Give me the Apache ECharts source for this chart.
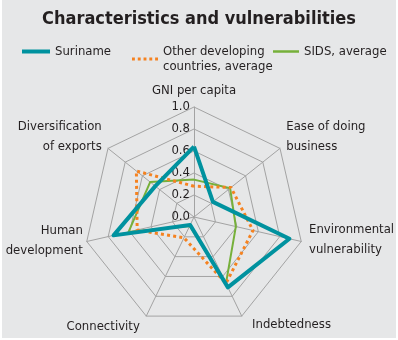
<!DOCTYPE html>
<html>
<head>
<meta charset="utf-8">
<script src="https://cdn.jsdelivr.net/npm/echarts@6/dist/echarts.min.js"></script>
<style>
html,body{margin:0;padding:0;background:#fff;}
#wrap{position:relative;width:398px;height:340px;}
#chart{width:398px;height:340px;}
#frame{position:absolute;left:0;top:0;width:398px;height:340px;box-sizing:border-box;border-left:2px solid #fff;border-right:2px solid #fff;border-bottom:2px solid #fff;pointer-events:none;}
</style>
</head>
<body>
<div id="wrap"><div id="chart"></div><div id="frame"></div></div>
<script>
// Categories in clockwise order starting at the top
const categories = ['GNI per capita', 'Ease of doing\nbusiness', 'Environmental\nvulnerability', 'Indebtedness', 'Connectivity', 'Human\ndevelopment', 'Diversification\nof exports'];
const suriname = [0.64, 0.22, 0.89, 0.71, 0.08, 0.75, 0.45];
const otherDeveloping = [0.28, 0.43, 0.55, 0.67, 0.21, 0.53, 0.67];
const sidsAverage = [0.34, 0.42, 0.39, 0.67, 0.09, 0.61, 0.51];
const tickLabels = ['0.0', '0.2', '0.4', '0.6', '0.8', '1.0'];
const seriesNames = ['Suriname', 'Other developing\ncountries, average', 'SIDS, average'];

// ECharts radar places indicators counter-clockwise; reorder so they appear clockwise
const order = [0, 6, 5, 4, 3, 2, 1];
const reorder = arr => order.map(i => arr[i]);

const FONT = "'Liberation Sans Narrow','DejaVu Sans Condensed','Roboto',sans-serif";
const TEAL = '#00929f', ORANGE = '#f58220', GREEN = '#76b03a', TXT = '#231f20';

// label-placement tweaks for indicator names (text styling only)
const nameTweak = {
  'GNI per capita': { tok: 't', pre: null, post: null },
  'Ease of doing\nbusiness': { tok: 't', pre: null, post: 's14' },
  'Environmental\nvulnerability': { tok: 't', pre: null, post: 's8' },
  'Indebtedness': { tok: 'tl6', pre: null, post: null },
  'Connectivity': { tok: 'tr3', pre: 's6', post: null },
  'Human\ndevelopment': { tok: 't', pre: null, post: 's4' },
  'Diversification\nof exports': { tok: 't', pre: null, post: 's14' }
};
const nameGaps = { 'GNI per capita': 6, 'Human\ndevelopment': 4, 'Indebtedness': 10 };

const indicator = order.map((i, k) => {
  const name = categories[i];
  const o = { name: name, min: 0, max: 1 };
  if (nameGaps[name] !== undefined) o.nameGap = nameGaps[name];
  if (k === 0) {
    o.axisLabel = {
      show: true, color: TXT, fontFamily: FONT, fontSize: 13, margin: 4,
      formatter: v => tickLabels[Math.round(v * 5)]
    };
  }
  return o;
});

function fmtName(name) {
  const tw = nameTweak[name] || { tok: 't' };
  const lines = name.split('\n').map(l => '{' + tw.tok + '|' + l + '}');
  if (tw.pre) lines.unshift('{' + tw.pre + '| }');
  if (tw.post) lines.push('{' + tw.post + '| }');
  return lines.join('\n');
}
const base = { fontFamily: FONT, fontSize: 13, color: TXT, lineHeight: 20 };
const spacer = h => ({ fontFamily: FONT, fontSize: 4, lineHeight: h, height: h, color: 'transparent' });

const chart = echarts.init(document.getElementById('chart'), null, { renderer: 'canvas' });
const dotIcon = 'path://M0,0h3v3h-3z M6,0h3v3h-3z M12,0h3v3h-3z M18,0h3v3h-3z M24,0h3v3h-3z';
const legTxt = { fontFamily: FONT, fontSize: 13, color: TXT };
chart.setOption({
  backgroundColor: '#e6e7e8',
  animation: false,
  title: {
    text: 'Characteristics and vulnerabilities',
    left: 'center', top: 10, padding: 0,
    textStyle: { fontFamily: FONT, fontWeight: 'bold', fontSize: 18, color: TXT }
  },
  legend: [
    { data: [{ name: seriesNames[0], icon: 'rect' }], left: 22, top: 45, padding: 0, itemWidth: 28, itemHeight: 4, itemGap: 5,
      textStyle: Object.assign({}, legTxt) },
    { data: [{ name: seriesNames[1], icon: dotIcon }], left: 132, top: 45, padding: 0, itemWidth: 26, itemHeight: 3,
      textStyle: Object.assign({}, legTxt, { lineHeight: 15, verticalAlign: 'top', padding: [-7, 0, 0, 0] }) },
    { data: [{ name: seriesNames[2], icon: 'rect' }], left: 273, top: 45, padding: 0, itemWidth: 26, itemHeight: 2.5,
      textStyle: Object.assign({}, legTxt) }
  ],
  radar: {
    center: [194, 217],
    radius: 110,
    startAngle: 90,
    splitNumber: 5,
    shape: 'polygon',
    indicator: indicator,
    axisName: {
      color: TXT, fontFamily: FONT, fontSize: 13, lineHeight: 20,
      formatter: fmtName,
      rich: {
        t: base,
        tl6: Object.assign({}, base, { padding: [0, 0, 0, 6] }),
        tr3: Object.assign({}, base, { padding: [0, 3, 0, 0] }),
        s4: spacer(4), s6: spacer(6), s8: spacer(8), s14: spacer(14)
      }
    },
    nameGap: 8,
    axisLine: { lineStyle: { color: '#a3a3a3', width: 1 } },
    splitLine: { lineStyle: { color: '#a3a3a3', width: 1 } },
    splitArea: { show: false },
    axisLabel: { show: false },
    axisTick: { show: false }
  },
  series: [{
    type: 'radar',
    symbol: 'none',
    data: [
      { name: seriesNames[2], value: reorder(sidsAverage), lineStyle: { color: GREEN, width: 2 }, itemStyle: { color: GREEN } },
      { name: seriesNames[1], value: reorder(otherDeveloping), lineStyle: { color: ORANGE, width: 3, type: [3, 3.2] }, itemStyle: { color: ORANGE } },
      { name: seriesNames[0], value: reorder(suriname), lineStyle: { color: TEAL, width: 4 }, itemStyle: { color: TEAL } }
    ]
  }]
});
</script>
</body>
</html>
